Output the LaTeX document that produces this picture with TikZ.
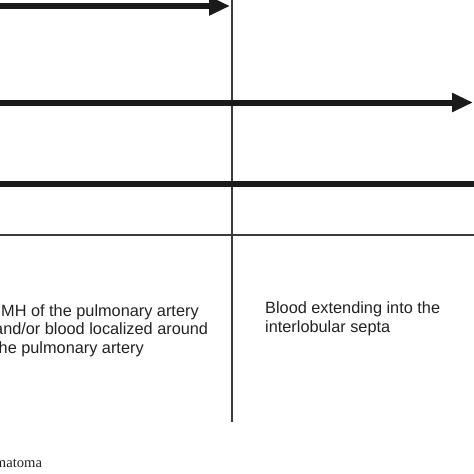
\documentclass[tikz,border=0pt]{standalone}
\usepackage{fontspec}
\setmainfont{Liberation Sans}
\newfontfamily\capfont{Liberation Serif}
\usetikzlibrary{arrows.meta}

\definecolor{inkline}{HTML}{1A1A1A}
\definecolor{inktext}{HTML}{222222}

\tikzset{
	thick arrow/.style = {line width = 6pt, draw = inkline, -{Triangle[length = 21pt, width = 18pt]}},
	thick bar/.style = {line width = 6pt, draw = inkline},
	thin rule/.style = {line width = 1.1pt, draw = inkline!85},
	cell text/.style = {anchor = north west, inner sep = 0pt, align = left, text = inktext,
		font = \fontsize{16.3}{18.5}\selectfont}
}

\begin{document}
\begin{tikzpicture} [x = 1pt, y = -1pt]
	\useasboundingbox (0, 0) rectangle (474, 474) ;
	\clip (0, 0) rectangle (474, 474) ;

	% grid of the table
	\draw [thin rule] (232, -2) -- (232, 422) ;
	\draw [thin rule] (-2, 235) -- (476, 235) ;

	% extent bars
	\draw [thick arrow] (-10, 6) -- (230, 6) ;
	\draw [thick arrow] (-10, 102.5) -- (473, 102.5) ;
	\draw [thick bar] (-10, 184) -- (480, 184) ;

	% cells
	\node [cell text] (left cell) at (-6, 304) {\hspace*{7pt}MH of the pulmonary artery\\and/or blood localized around\\the pulmonary artery} ;
	\node [cell text] (right cell) at (265, 301.5) {Blood extending into the\\interlobular septa} ;

	\node [anchor = base west, inner sep = 0pt, text = inktext, font = \capfont\fontsize{14.6}{17}\selectfont] (caption) at (-19, 467.3) {hematoma} ;

\end{tikzpicture}
\end{document}
